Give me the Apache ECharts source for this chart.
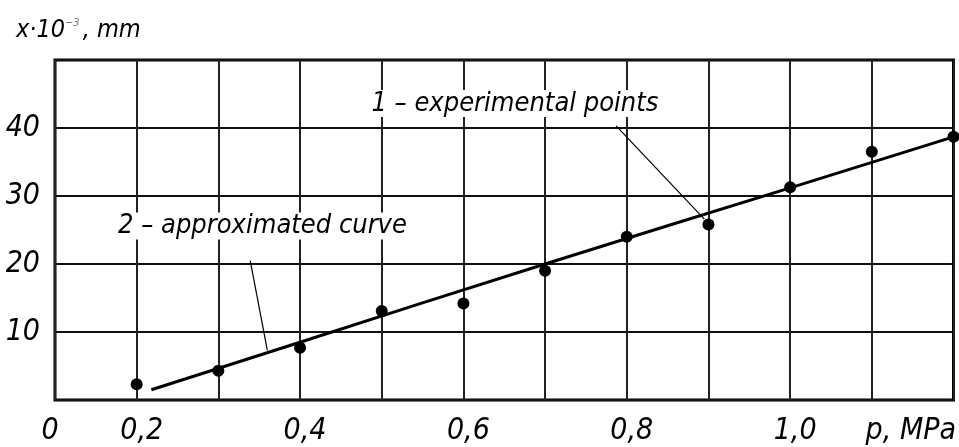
<!DOCTYPE html>
<html>
<head>
<meta charset="utf-8">
<script src="https://cdn.jsdelivr.net/npm/echarts@6/dist/echarts.min.js"></script>
<style>
  html, body { margin: 0; padding: 0; background: #fff; }
  #main { width: 959px; height: 447px; }
</style>
</head>
<body>
<div id="main"></div>
<script>
  // pressure p, MPa
  var pressure = [0.2, 0.3, 0.4, 0.5, 0.6, 0.7, 0.8, 0.9, 1.0, 1.1, 1.2];
  // measured displacement x·10^-3, mm
  var displacement = [2.3, 4.3, 7.7, 13.1, 14.2, 19.0, 24.0, 25.8, 31.3, 36.5, 38.7];
  // approximated curve
  var curveP = [0.218, 0.4, 0.7, 1.0, 1.2];
  var curveX = [1.5, 8.5, 20.0, 31.2, 38.7];
  // x tick labels (left edge is the broken origin)
  var xTickLabels = { '0.1': '0', '0.2': '0,2', '0.4': '0,4', '0.6': '0,6', '0.8': '0,8', '1': '1,0', '1.1': 'p, MPa' };
  var yTickLabels = [10, 20, 30, 40];
  // callouts: text anchor and leader line ends
  var notes = [
    { text: '1 – experimental points', at: [0.663, 43.6], from: [0.787, 40.3], to: [0.895, 26.6] },
    { text: '2 – approximated curve', at: [0.354, 25.6], from: [0.339, 20.5], to: [0.360, 7.3] }
  ];

  var FONT = "'Liberation Sans Narrow', 'DejaVu Sans Condensed', sans-serif";

  var chart = echarts.init(document.getElementById('main'));
  chart.setOption({
    animation: false,
    backgroundColor: '#fff',
    title: {
      text: 'x·10{sup|−3}, mm',
      left: 11,
      top: 13,
      textStyle: {
        fontFamily: FONT, fontStyle: 'italic', fontWeight: 'normal', fontSize: 25, color: '#000',
        rich: { sup: { fontFamily: FONT, fontStyle: 'italic', fontSize: 11, color: '#777', verticalAlign: 'top', padding: [0, 3, 14, 0] } }
      }
    },
    grid: { left: 55, right: 3, top: 60, bottom: 47, show: true, borderColor: '#000', borderWidth: 3, backgroundColor: 'transparent' },
    xAxis: {
      type: 'value', min: 0.1, max: 1.2, interval: 0.1,
      axisLine: { show: false }, axisTick: { show: false },
      splitLine: { show: true, lineStyle: { color: '#222', width: 2 } },
      axisLabel: {
        margin: 16, fontFamily: FONT, fontStyle: 'italic', fontSize: 30, color: '#000',
        showMinLabel: true, showMaxLabel: false,
        formatter: function (v) {
          var key = String(Math.round(v * 10) / 10);
          var t = xTickLabels[key];
          if (!t) return '';
          if (key === '1.1') return '{u|' + t + '}';
          if (key === '0.1') return '{o|' + t + '}';
          return '{n|' + t + '}';
        },
        rich: {
          n: { fontFamily: FONT, fontStyle: 'italic', fontSize: 30, color: '#000', padding: [0, 0, 0, 10] },
          o: { fontFamily: FONT, fontStyle: 'italic', fontSize: 30, color: '#000', padding: [0, 10, 0, 0] },
          u: { fontFamily: FONT, fontStyle: 'italic', fontSize: 30, color: '#000', padding: [0, 0, 0, 78] }
        }
      }
    },
    yAxis: {
      type: 'value', min: 0, max: 50, interval: 10,
      axisLine: { show: false }, axisTick: { show: false },
      splitLine: { show: true, lineStyle: { color: '#111', width: 2 } },
      axisLabel: {
        margin: 15, fontFamily: FONT, fontStyle: 'italic', fontSize: 30, color: '#000',
        padding: [0, 0, 10, 0],
        formatter: function (v) { return yTickLabels.indexOf(v) >= 0 ? String(v) : ''; }
      }
    },
    series: [
      {
        name: 'approximated curve', type: 'line', smooth: true, symbol: 'none', clip: false,
        lineStyle: { color: '#000', width: 3 },
        data: curveP.map(function (p, i) { return [p, curveX[i]]; }),
        z: 3
      },
      {
        name: 'experimental points', type: 'scatter', symbol: 'circle', symbolSize: 12, clip: false,
        itemStyle: { color: '#000', opacity: 1 },
        data: pressure.map(function (p, i) { return [p, displacement[i]]; }),
        z: 4
      },
      {
        name: 'notes', type: 'scatter', symbolSize: 0, silent: true, z: 5,
        itemStyle: { opacity: 1 },
        data: notes.map(function (n) { return { value: n.at, name: n.text }; }),
        label: {
          show: true, position: 'inside', formatter: '{b}',
          fontFamily: FONT, fontStyle: 'italic', fontSize: 27, color: '#000',
          backgroundColor: '#fff', padding: [0, 6]
        },
        markLine: {
          silent: true, symbol: ['none', 'none'],
          lineStyle: { color: '#000', width: 1.2, type: 'solid', opacity: 1 },
          label: { show: false },
          data: notes.map(function (n) { return [{ coord: n.from }, { coord: n.to }]; })
        }
      }
    ]
  });
</script>
</body>
</html>
